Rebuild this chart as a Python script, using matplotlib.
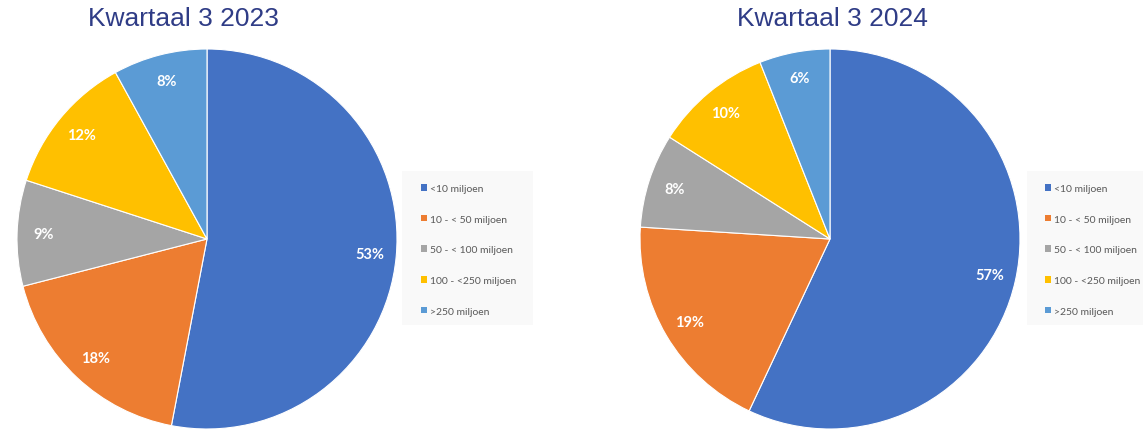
import matplotlib
matplotlib.use("Agg")
import matplotlib.pyplot as plt
from matplotlib.patches import Patch, Rectangle

categories = ["<10 miljoen", "10 - < 50 miljoen", "50 - < 100 miljoen", "100 - <250 miljoen", ">250 miljoen"]
values_2023 = [53, 18, 9, 12, 8]
values_2024 = [57, 19, 8, 10, 6]
titles = ["Kwartaal 3 2023", "Kwartaal 3 2024"]
colors = ["#4472C4", "#ED7D31", "#A5A5A5", "#FFC000", "#5B9BD5"]

W, H = 1143, 431
fig = plt.figure(figsize=(W / 100, H / 100), dpi=100)
fig.patch.set_facecolor("white")

def px_axes(cx, cy, r):
    return fig.add_axes([(cx - r) / W, (H - cy - r) / H, 2 * r / W, 2 * r / H])

# (values, center x, center y, radius, title x, legend box x0, x1, marker x)
specs = [
    (values_2023, 207, 240, 190, 183, 402, 533, 421),
    (values_2024, 830, 240, 190, 832, 1027, 1143, 1045),
]

for (vals, cx, cy, r, tx, bx0, bx1, mx), title in zip(specs, titles):
    # legend background panel
    fig.patches.append(Rectangle((bx0 / W, (H - 326) / H), (bx1 - bx0) / W, 154 / H,
                                 transform=fig.transFigure, facecolor="#F9F9F9",
                                 edgecolor="none", zorder=0))
    ax = px_axes(cx, cy, r)
    wedges, texts, autotexts = ax.pie(
        vals, colors=colors, startangle=90, counterclock=False,
        autopct=lambda p: f"{p:.0f}%", pctdistance=0.86,
        wedgeprops=dict(edgecolor="white", linewidth=0.8),
        textprops=dict(color="white", fontsize=10.5, fontweight="bold", family=["Lato", "DejaVu Sans"]),
    )
    ax.set_xlim(-1, 1)
    ax.set_ylim(-1, 1)
    ax.set_aspect("auto")
    fig.text(tx / W, 1 - 19 / H, title, ha="center", va="center", fontsize=19,
             color="#2F3C86", family=["Liberation Sans", "DejaVu Sans"])
    handles = [Patch(facecolor=c, edgecolor="none") for c in colors]
    leg = fig.legend(handles, categories, loc="upper left",
                     bbox_to_anchor=(mx / W, 1 - 185 / H), frameon=False,
                     prop=dict(family=["Lato", "DejaVu Sans"], size=7.5),
                     labelcolor="#595959", labelspacing=2.08,
                     handlelength=0.6, handleheight=0.6, handletextpad=0.3,
                     borderpad=0.0, borderaxespad=0.0)

fig.savefig("out.png", dpi=100, facecolor="white")
